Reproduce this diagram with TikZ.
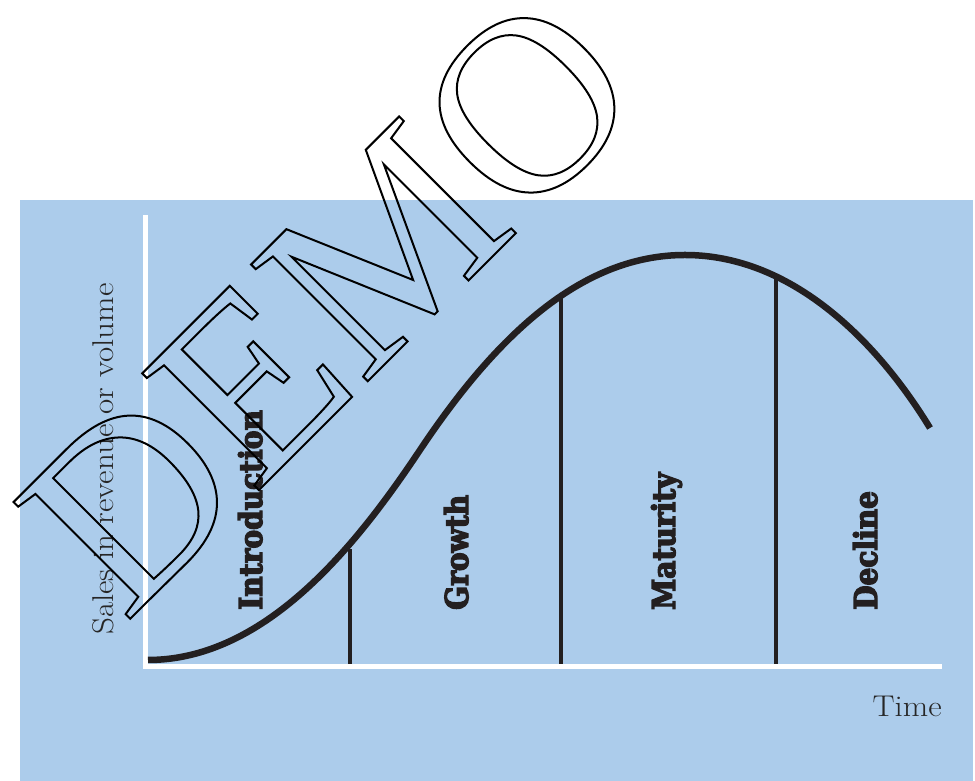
\documentclass[tikz,border=0pt]{standalone}
\usepackage{fontspec}
\newfontfamily\labfont{DejaVu Serif}[FakeStretch=0.89]
\newfontfamily\wmfont{Liberation Serif}
\newfontfamily\axfont{Latin Modern Roman}[FakeStretch=1.1]
\definecolor{bgblue}{RGB}{172,204,235}
\definecolor{ink}{RGB}{35,31,32}
\definecolor{axtext}{RGB}{38,38,38}
\newcommand{\heavytext}[1]{\special{pdf:literal direct 2 Tr 1.3 w}#1\special{pdf:literal direct 0 Tr}}
\newcommand{\outlinetext}[1]{\special{pdf:literal direct 1 Tr 2 w}#1\special{pdf:literal direct 0 Tr}}
\begin{document}
\begin{tikzpicture}[x=1pt,y=1pt,
  stage/.style={rotate=90,anchor=base west,inner sep=0pt,text=ink,font=\labfont\bfseries\fontsize{31.5}{31.5}\selectfont},
  axlabel/.style={inner sep=0pt,text=axtext,font=\axfont\fontsize{30}{30}\selectfont},
  axisline/.style={white,line width=5pt},
  divider/.style={ink,line width=4pt},
  lifecurve/.style={ink,line width=6.5pt},
  watermark/.style={rotate=45,anchor=base west,inner sep=0pt,font=\wmfont\fontsize{252}{252}\selectfont}]
\useasboundingbox (0,0) rectangle (975,781);
% background panel
\fill[bgblue] (20,0) rectangle (973,581);
% axes
\coordinate (ytop) at (145,566);
\coordinate (ybot) at (145,112);
\coordinate (xstart) at (142.5,114.5);
\coordinate (xend) at (942,114.5);
\draw[axisline] (ytop) -- (ybot);
\draw[axisline] (xstart) -- (xend);
% curve key points
\coordinate (c0) at (148,121);
\coordinate (c3) at (420,331);
\coordinate (c5) at (685,526);
\coordinate (c8) at (930,353);
% points where the dividers meet the curve
\coordinate (c2) at (350,232);
\coordinate (c4) at (561,485);
\coordinate (c6) at (776,505);
\coordinate (b2) at (350,117);
\coordinate (b4) at (561,117);
\coordinate (b6) at (776,117);
\draw[divider] (b2) -- (c2);
\draw[divider] (b4) -- (c4);
\draw[divider] (b6) -- (c6);
% life-cycle curve
\draw[lifecurve] (c0) .. controls (268,121) and (360,241) .. (c3)
  .. controls (500,451) and (585,526) .. (c5)
  .. controls (795,526) and (880,435) .. (c8);
% stage labels
\node[stage] (intro) at (262,171) {\heavytext{Introduction}};
\node[stage] (growth) at (468,171) {\heavytext{Growth}};
\node[stage] (maturity) at (675,171) {\heavytext{Maturity}};
\node[stage] (decline) at (877,171) {\heavytext{Decline}};
% axis labels
\node[axlabel,rotate=90,anchor=base west] (ylab) at (113,146) {Sales in revenue or volume};
\node[axlabel,anchor=base east] (xlab) at (942,64) {Time};
% watermark
\node[watermark] (demo) at (125,157) {\outlinetext{DEMO}};
\end{tikzpicture}
\end{document}
